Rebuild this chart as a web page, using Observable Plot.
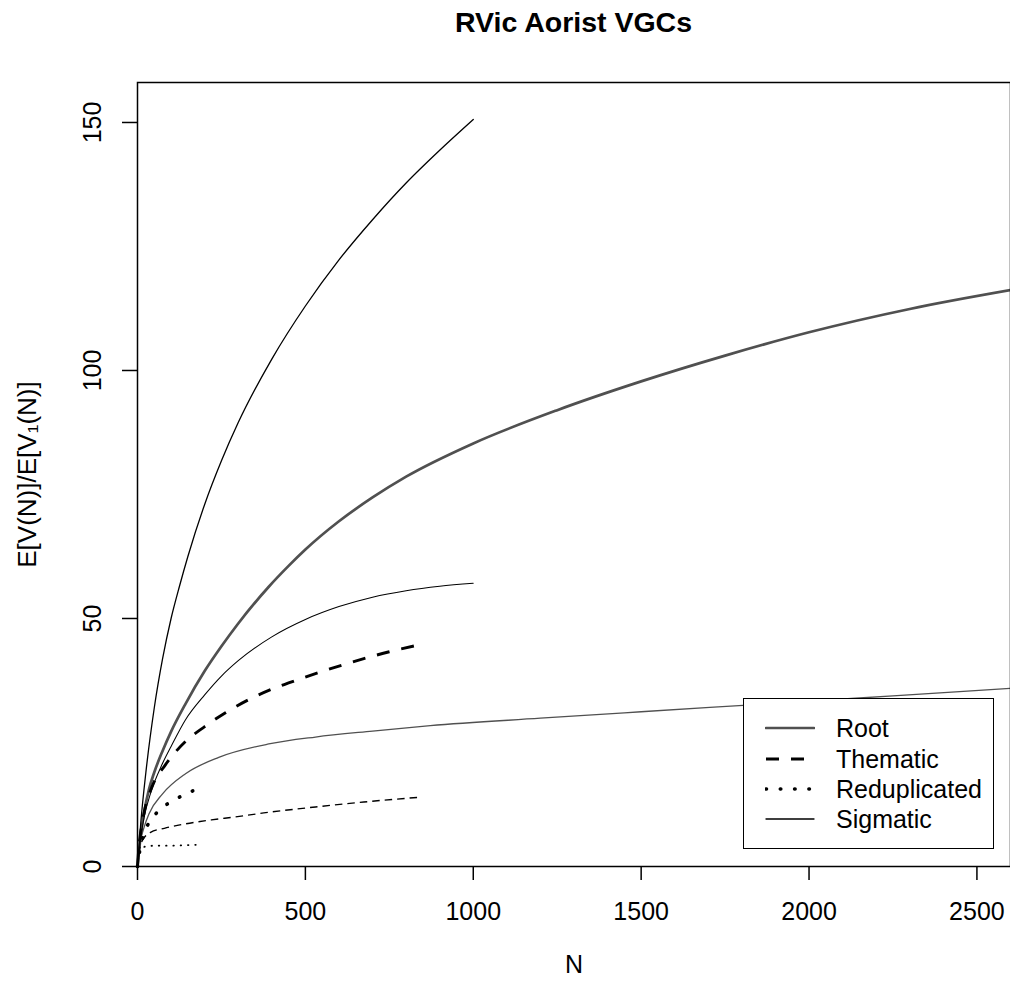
<!DOCTYPE html>
<html><head><meta charset="utf-8">
<script src="https://cdn.jsdelivr.net/npm/d3@7"></script>
<script src="https://cdn.jsdelivr.net/npm/@observablehq/plot@0.6"></script>
<style>
body{margin:0;background:#fff;}
#wrap{position:relative;width:1010px;height:984px;overflow:hidden;font-family:"Liberation Sans",Arial,Helvetica,sans-serif;background:#fff;}
#title{position:absolute;left:137px;width:873px;top:8px;text-align:center;font-weight:bold;font-size:28.5px;line-height:1;color:#000;}
#chart{position:absolute;left:0;top:64px;}
#legend{position:absolute;left:743px;top:698px;width:251px;height:151px;box-sizing:border-box;border:1.4px solid #000;background:#fff;}
.row{position:absolute;left:0;width:249px;height:30px;}
.row svg{position:absolute;left:21px;top:0;}
.row span{position:absolute;left:92px;top:0;line-height:30px;font-size:25px;color:#000;white-space:nowrap;}
</style>
</head><body>
<div id="wrap">
  <div id="title">RVic Aorist VGCs</div>
  <div id="chart"></div>
  <div id="legend"></div>
</div>
<script>
// ---- data ----
const categories = ["Root", "Thematic", "Reduplicated", "Sigmatic"];
const xTicks = [0, 500, 1000, 1500, 2000, 2500];
const yTicks = [0, 50, 100, 150];

// Root
const rootVN = [0, 10, 20, 34, 50, 74, 100, 143, 200, 250, 300, 391, 450, 500, 600, 700, 800, 1000, 1250, 1500, 1750, 2000, 2300, 2600];
const rootV  = [0, 6.5, 11, 15.5, 19, 23.2, 27.2, 32.8, 39.4, 44.4, 49, 56.4, 60.6, 63.9, 69.6, 74.4, 78.6, 85.3, 92, 97.8, 103, 107.7, 112.4, 116.2];
const rootV1N = [0, 5, 10, 20, 34, 74, 143, 242, 391, 530, 700, 872, 1200, 1500, 1900, 2250, 2600];
const rootV1  = [0, 3.5, 5.5, 8, 10.6, 14.6, 18.7, 22, 24.7, 26.1, 27.3, 28.4, 29.9, 31.2, 32.9, 34.4, 35.9];
// Thematic
const themVN = [0, 5, 10, 20, 44, 83, 143, 200, 262, 330, 391, 450, 530, 600, 674, 750, 847];
const themV  = [0, 4.5, 7.2, 11, 16.2, 20.5, 25.2, 28.2, 31, 33.6, 35.5, 37, 38.9, 40.4, 41.9, 43.3, 44.8];
const themV1N = [0, 5, 10, 20, 39, 80, 143, 220, 292, 376, 530, 674, 847];
const themV1  = [0, 3, 4.5, 5.8, 6.9, 7.7, 8.6, 9.4, 10.0, 10.8, 12.0, 13.0, 14.0];
// Reduplicated
const redVN = [0, 5, 10, 19, 39, 66, 103, 141, 180, 188];
const redV  = [0, 2.5, 4.3, 6.6, 9.3, 11.4, 13.2, 14.5, 15.7, 15.9];
const redV1N = [0, 3, 8, 15, 30, 54, 100, 140, 187];
const redV1  = [0, 2, 3.2, 3.8, 4.1, 4.2, 4.2, 4.3, 4.4];
// Sigmatic
const sigVN = [0, 10, 25, 50, 75, 100, 125, 150, 200, 250, 300, 400, 500, 600, 700, 800, 900, 1000];
const sigV  = [0, 9, 19, 32, 42, 50, 56.5, 62.5, 73, 81.8, 89.5, 102.3, 113, 122.3, 130.4, 137.8, 144.4, 150.6];
const sigV1N = [0, 10, 20, 40, 74, 100, 143, 200, 250, 300, 400, 500, 600, 700, 800, 900, 1000];
const sigV1  = [0, 6, 10, 15, 20.7, 24.2, 29.6, 34.6, 38.4, 41.5, 46.3, 49.8, 52.4, 54.3, 55.6, 56.5, 57.1];

// ---- styles ----
const grey = "#505050";
const styles = {
  Root:         {stroke: grey,   strokeWidth: 2.7, strokeDasharray: null,       strokeLinecap: "round"},
  Thematic:     {stroke: "#000", strokeWidth: 2.9, strokeDasharray: "13,12",    strokeLinecap: "butt"},
  Reduplicated: {stroke: "#000", strokeWidth: 3.6, strokeDasharray: "0.5,13.8", strokeLinecap: "round"},
  Sigmatic:     {stroke: "#000", strokeWidth: 1.3, strokeDasharray: null,       strokeLinecap: "round"}
};
const thinStyles = {
  Root:         {stroke: grey,   strokeWidth: 1.3, strokeDasharray: null,      strokeLinecap: "round"},
  Thematic:     {stroke: "#000", strokeWidth: 1.4, strokeDasharray: "7.5,5",   strokeLinecap: "butt"},
  Reduplicated: {stroke: "#000", strokeWidth: 1.8, strokeDasharray: "0.5,6.8", strokeLinecap: "round"},
  Sigmatic:     {stroke: "#000", strokeWidth: 1.05, strokeDasharray: null,     strokeLinecap: "round"}
};

const toRows = (ns, vs) => ns.map((n, i) => ({N: n, V: vs[i]}));
const series = [
  {cat: "Root", kind: "V", data: toRows(rootVN, rootV)},
  {cat: "Root", kind: "V1", data: toRows(rootV1N, rootV1)},
  {cat: "Thematic", kind: "V", data: toRows(themVN, themV)},
  {cat: "Thematic", kind: "V1", data: toRows(themV1N, themV1)},
  {cat: "Reduplicated", kind: "V", data: toRows(redVN, redV)},
  {cat: "Reduplicated", kind: "V1", data: toRows(redV1N, redV1)},
  {cat: "Sigmatic", kind: "V", data: toRows(sigVN, sigV)},
  {cat: "Sigmatic", kind: "V1", data: toRows(sigV1N, sigV1)}
];

const lineMarks = series.map(s => {
  const st = s.kind === "V" ? styles[s.cat] : thinStyles[s.cat];
  const o = {x: "N", y: "V", curve: "monotone-x", stroke: st.stroke, strokeWidth: st.strokeWidth,
             strokeLinecap: st.strokeLinecap, strokeLinejoin: "round"};
  if (st.strokeDasharray) o.strokeDasharray = st.strokeDasharray;
  return Plot.line(s.data, o);
});

const font = "'Liberation Sans', Arial, Helvetica, sans-serif";
const chart = Plot.plot({
  width: 1010,
  height: 920,
  marginLeft: 137,
  marginRight: 0,
  marginTop: 18,
  marginBottom: 118,
  x: {domain: [0, 2600], axis: null},
  y: {domain: [0, 158.06], axis: null},
  style: {fontFamily: font, fontSize: "25px", background: "white", color: "black", overflow: "visible"},
  marks: [
    ...lineMarks,
    Plot.frame({stroke: "black", strokeWidth: 1.5}),
    Plot.axisX({ticks: xTicks, tickSize: 14, tickPadding: 22, fontSize: 25, label: null,
                tickFormat: d => String(d), strokeWidth: 1.5}),
    Plot.axisY({ticks: yTicks, tickSize: 15, tickFormat: () => "", label: null, strokeWidth: 1.5}),
    Plot.text(yTicks, {y: d => d, text: d => String(d), frameAnchor: "left", dx: -37, rotate: -90,
                       textAnchor: "middle", lineAnchor: "bottom", fontSize: 25}),
    Plot.text(["N"], {text: d => d, frameAnchor: "bottom", dy: 106, lineAnchor: "bottom", fontSize: 25}),
    Plot.text(["E[V(N)]/E[V\u2081(N)]"], {text: d => d, frameAnchor: "left", dx: -102, rotate: -90,
                       textAnchor: "middle", lineAnchor: "bottom", fontSize: 26})
  ]
});
document.getElementById("chart").appendChild(chart);

// ---- legend ----
const legend = d3.select("#legend");
const rowCenters = [29, 60, 90, 120];
categories.forEach((c, i) => {
  const st = styles[c];
  const row = legend.append("div").attr("class", "row").style("top", (rowCenters[i] - 15) + "px");
  const svg = row.append("svg").attr("width", 50).attr("height", 30);
  const ln = svg.append("line").attr("x1", 1).attr("x2", 49).attr("y1", 15).attr("y2", 15)
    .attr("stroke", st.stroke).attr("stroke-width", st.strokeWidth).attr("stroke-linecap", st.strokeLinecap);
  if (st.strokeDasharray) ln.attr("stroke-dasharray", st.strokeDasharray);
  row.append("span").text(c);
});
</script>
</body></html>
